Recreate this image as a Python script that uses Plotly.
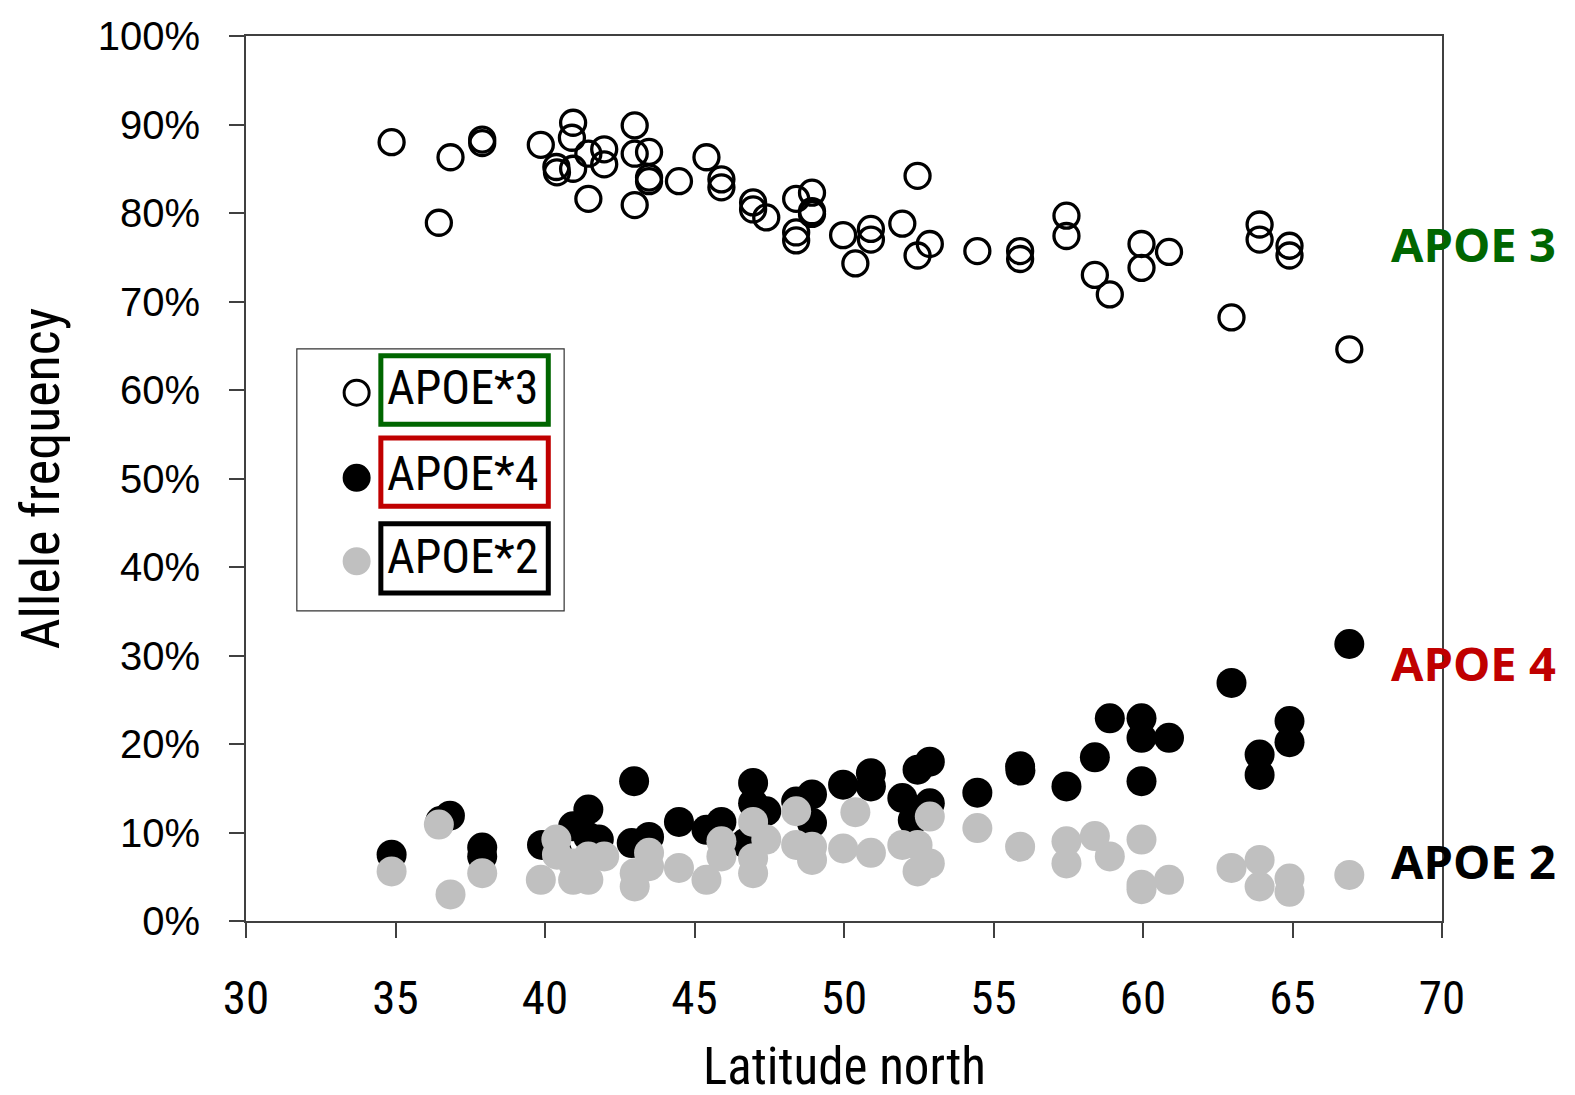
import plotly.graph_objects as go

# ---------------- data ----------------
apoe3_lat = [34.87, 36.45, 36.84, 37.9, 37.9, 39.86, 40.38, 40.4, 40.94, 40.9, 40.94, 41.45,
             41.98, 41.98, 41.45, 43.0, 43.0, 43.48, 43.48, 43.48, 43.0, 44.48, 45.4, 45.9,
             45.9, 46.96, 46.96, 47.4, 48.4, 48.93, 48.93, 48.93, 48.4, 48.4, 49.97, 50.9,
             50.9, 50.38, 51.95, 52.46, 52.87, 52.46, 54.46, 55.89, 55.89, 57.44, 57.44,
             58.39, 58.89, 59.95, 59.95, 60.87, 62.96, 63.9, 63.9, 64.9, 64.9, 66.9]
apoe3_freq = [88.0, 78.9, 86.3, 88.3, 87.9, 87.7, 85.2, 84.6, 90.2, 88.5, 85.0, 86.7,
              87.2, 85.5, 81.6, 89.9, 86.7, 86.9, 84.0, 83.6, 80.9, 83.6, 86.3, 83.8,
              82.9, 81.2, 80.4, 79.5, 81.6, 82.3, 80.2, 79.9, 77.8, 76.9, 77.5, 78.2,
              77.0, 74.3, 78.8, 84.2, 76.5, 75.2, 75.7, 75.7, 74.8, 79.7, 77.4,
              73.0, 70.8, 76.5, 73.8, 75.6, 68.2, 78.7, 77.0, 76.3, 75.2, 64.6]

apoe4_lat = [34.87, 36.5, 36.82, 37.9, 37.9, 39.9, 40.4, 40.94, 41.45, 41.45, 41.8, 42.9,
             42.98, 43.48, 44.48, 45.4, 45.9, 46.7, 46.96, 46.96, 47.4, 48.4, 48.93, 48.93,
             49.97, 50.9, 50.9, 51.95, 52.46, 52.87, 52.87, 52.3, 54.46, 55.89, 55.9,
             57.44, 58.39, 58.89, 59.95, 59.95, 59.95, 60.87, 62.96, 63.9, 63.9, 64.9,
             64.9, 66.9]
apoe4_freq = [7.5, 11.3, 11.9, 8.3, 7.3, 8.6, 7.8, 10.7, 12.6, 9.5, 9.2, 8.8,
              15.8, 9.5, 11.2, 10.3, 11.2, 8.8, 15.6, 13.3, 12.4, 13.5, 14.3, 11.1,
              15.4, 16.7, 15.2, 13.9, 17.1, 18.0, 13.3, 11.4, 14.5, 17.5, 17.0,
              15.2, 18.5, 22.9, 22.9, 20.7, 15.8, 20.7, 26.9, 18.8, 16.5, 22.6,
              20.2, 31.3]

apoe2_lat = [34.87, 36.45, 36.84, 37.9, 39.86, 40.38, 40.4, 40.94, 41.45, 41.45, 41.98,
             40.94, 43.0, 43.0, 43.48, 43.48, 44.48, 45.4, 45.9, 45.9, 46.96, 46.96, 46.96,
             47.4, 48.4, 48.4, 48.93, 48.93, 50.38, 49.97, 50.9, 51.95, 52.46, 52.46,
             52.87, 52.87, 54.46, 55.89, 57.44, 57.44, 58.39, 58.89, 59.95, 59.95, 59.95,
             60.87, 62.96, 63.9, 63.9, 64.9, 64.9, 66.9]
apoe2_freq = [5.6, 10.9, 3.0, 5.4, 4.65, 9.2, 7.5, 4.65, 4.65, 7.3, 7.3,
              6.5, 3.9, 5.4, 7.7, 6.2, 6.0, 4.65, 9.0, 7.3, 11.2, 7.1, 5.4,
              9.2, 12.4, 8.6, 8.4, 6.9, 12.3, 8.2, 7.7, 8.6, 8.6, 5.6,
              6.5, 11.8, 10.5, 8.4, 9.0, 6.5, 9.6, 7.3, 9.2, 4.1, 3.6,
              4.65, 6.0, 6.9, 3.9, 4.8, 3.3, 5.2]

series_names = ["APOE*3", "APOE*4", "APOE*2"]
side_labels = ["APOE 3", "APOE 4", "APOE 2"]
side_colors = ["#006600", "#C00000", "#000000"]
x_ticks = [30, 35, 40, 45, 50, 55, 60, 65, 70]
y_ticks = [i / 10 for i in range(11)]

NARROW = "Liberation Sans Narrow, Arial Narrow, Roboto Condensed, Liberation Sans, Arial"
ARIAL = "Liberation Sans, Arial"

fig = go.Figure()
fig.add_trace(go.Scatter(
    x=apoe3_lat, y=[v / 100 for v in apoe3_freq], mode="markers", name=series_names[0],
    marker=dict(symbol="circle-open", size=25, color="#000000", line=dict(width=3.3, color="#000000")),
    showlegend=False))
fig.add_trace(go.Scatter(
    x=apoe4_lat, y=[v / 100 for v in apoe4_freq], mode="markers", name=series_names[1],
    marker=dict(symbol="circle", size=30, color="#000000", line=dict(width=0)),
    showlegend=False))
fig.add_trace(go.Scatter(
    x=apoe2_lat, y=[v / 100 for v in apoe2_freq], mode="markers", name=series_names[2],
    marker=dict(symbol="circle", size=30, color="#C0C0C0", line=dict(width=0)),
    showlegend=False))

shapes = []
# legend outer box
shapes.append(dict(type="rect", xref="x", yref="y", x0=31.7, x1=40.64, y0=0.3505, y1=0.6465,
                   line=dict(color="#333333", width=1.2), fillcolor="rgba(0,0,0,0)", layer="above"))
box_colors = ["#006600", "#C00000", "#000000"]
box_y = [(0.5613, 0.6386), (0.4686, 0.5458), (0.3705, 0.4489)]
marker_y = [0.597, 0.5008, 0.4065]
for i in range(3):
    shapes.append(dict(type="rect", xref="x", yref="y", x0=34.51, x1=40.11,
                       y0=box_y[i][0], y1=box_y[i][1],
                       line=dict(color=box_colors[i], width=5), fillcolor="rgba(0,0,0,0)", layer="above"))
# legend symbols
shapes.append(dict(type="circle", xref="x", yref="y", xsizemode="pixel", ysizemode="pixel",
                   xanchor=33.70, yanchor=marker_y[0], x0=-12.5, x1=12.5, y0=-12.5, y1=12.5,
                   line=dict(color="#000000", width=3), fillcolor="rgba(0,0,0,0)", layer="above"))
shapes.append(dict(type="circle", xref="x", yref="y", xsizemode="pixel", ysizemode="pixel",
                   xanchor=33.70, yanchor=marker_y[1], x0=-14, x1=14, y0=-14, y1=14,
                   line=dict(width=0), fillcolor="#000000", layer="above"))
shapes.append(dict(type="circle", xref="x", yref="y", xsizemode="pixel", ysizemode="pixel",
                   xanchor=33.70, yanchor=marker_y[2], x0=-14, x1=14, y0=-14, y1=14,
                   line=dict(width=0), fillcolor="#C0C0C0", layer="above"))

annotations = []
text_y = [0.6025, 0.5057, 0.4122]
for i in range(3):
    annotations.append(dict(x=37.24, y=text_y[i], xref="x", yref="y", text=series_names[i],
                            showarrow=False, xanchor="center", yanchor="middle",
                            font=dict(family=NARROW, size=48, color="#000000")))
side_y = [0.765, 0.291, 0.068]
for i in range(3):
    annotations.append(dict(x=0.9557, y=side_y[i], xref="paper", yref="paper", text=side_labels[i],
                            showarrow=False, xanchor="left", yanchor="middle",
                            font=dict(family="Open Sans", size=47, color=side_colors[i], weight="bold")))
annotations.append(dict(x=0.5, y=-0.164, xref="paper", yref="paper", text="Latitude north",
                        showarrow=False, xanchor="center", yanchor="middle",
                        font=dict(family=NARROW, size=51, color="#000000")))
annotations.append(dict(x=-0.1722, y=0.5, xref="paper", yref="paper", text="Allele frequency",
                        showarrow=False, xanchor="center", yanchor="middle", textangle=-90,
                        font=dict(family=NARROW, size=54, color="#000000")))

fig.update_layout(
    width=1575, height=1095,
    margin=dict(l=246, r=133, t=36, b=174),
    paper_bgcolor="white", plot_bgcolor="white",
    shapes=shapes, annotations=annotations,
    showlegend=False,
)
fig.update_xaxes(range=[30, 70], tickvals=x_ticks, ticks="outside", ticklen=15, tickwidth=1.5,
                 tickcolor="#404040", showline=True, linecolor="#404040", linewidth=2, mirror=True,
                 showgrid=False, zeroline=False, ticklabelstandoff=20,
                 tickfont=dict(family=NARROW, size=47, color="#000000"))
fig.update_yaxes(range=[0, 1], tickvals=y_ticks, tickformat=".0%", ticks="outside", ticklen=15,
                 tickwidth=1.5, tickcolor="#404040", showline=True, linecolor="#404040", linewidth=2,
                 mirror=True, showgrid=False, zeroline=False, ticklabelstandoff=21,
                 tickfont=dict(family=ARIAL, size=40, color="#000000"))

fig.write_html("out.html")
